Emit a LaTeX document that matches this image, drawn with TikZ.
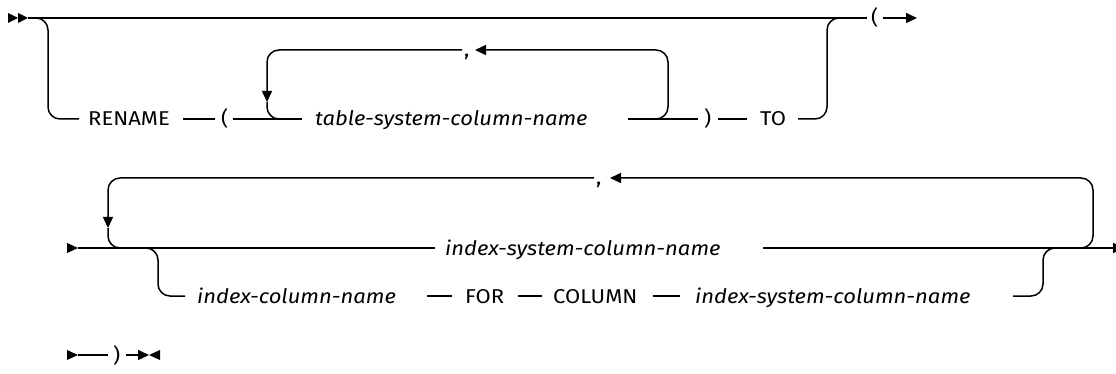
\documentclass[tikz,border=0pt]{standalone}
\usepackage{fontspec}
\setmainfont[FakeStretch=1.1]{Fira Sans}
\usetikzlibrary{arrows.meta, positioning, calc}

\begin{document}
\begin{tikzpicture}[x=1pt, y=-1pt,
  rail/.style={line width=1.5pt, rounded corners=12pt},
  tip/.style={-{Triangle[length=11pt, width=10pt]}},
  kw/.style={inner sep=0pt, anchor=west, text height=18pt, text depth=4pt,
    font=\fontsize{20}{23}\selectfont},
  var/.style={kw, font=\fontsize{20}{23}\selectfont\itshape},
]
  \useasboundingbox (0,0) rectangle (1116,374);

  % Row 1
  \fill (8,13) -- (18,18) -- (8,23) -- cycle;
  \fill (18,13) -- (28,18) -- (18,23) -- cycle;
  \coordinate (in1) at (28,18);
  \coordinate (b1) at (48,119);
  \coordinate (la) at (267,102);
  \coordinate (lb) at (295,119);
  \coordinate (ra) at (628,119);
  \coordinate (rc) at (640,119);
  \coordinate (cae) at (475,50);
  \coordinate (rj) at (850,18);
  \coordinate (out1) at (917,18);

  \node[kw] (rename) at (88,119) {RENAME};
  \node[kw] (lpa) at (221,119) {(};
  \node[var] (tscn) at (315,119) {table-system-column-name};
  \node[kw] (ca) at (464,50) {,};
  \node[kw] (rpa) at (704,119) {)};
  \node[kw] (to) at (760,119) {TO};
  \node[kw] (lpb) at (871,18) {(};

  \draw[rail, shorten >=4pt] (in1) -- (lpb.west);
  \draw[rail, tip, shorten <=4pt] (lpb.east) -- (out1);
  \draw[rail, shorten >=9pt] (in1) -| (b1) -- (rename.west);
  \draw[rail, shorten <=13pt, shorten >=6pt] (rename.east) -- (lpa.west);
  \draw[rail, shorten <=4pt, shorten >=13pt] (lpa.east) -- (tscn.west);
  \draw[rail, tip, shorten <=2pt] (ca.west) -| (la);
  \draw[rail] (la) |- (lb);
  \draw[rail, shorten >=6pt] (ra) -- (rpa.west);
  \draw[rail, tip] (rc) -| (668,50) -- (cae);
  \draw[rail, shorten <=6pt, shorten >=13pt] (rpa.east) -- (to.west);
  \draw[rail, shorten <=12pt] (to.east) -| (827,18) -- (rj);

  % Row 2
  \fill (67,243) -- (78,248) -- (67,253) -- cycle;
  \coordinate (in2) at (78,248);
  \coordinate (lc) at (108,228);
  \coordinate (ld) at (135,248);
  \coordinate (b2) at (158,296);
  \coordinate (rb) at (763,248);
  \coordinate (re) at (1040,248);
  \coordinate (cbe) at (610,178);
  \coordinate (fa) at (427,296);
  \coordinate (fb) at (1013,296);
  \coordinate (rf) at (1060,248);
  \coordinate (out2) at (1124,248);

  \node[var] (iscn) at (445,248) {index-system-column-name};
  \node[kw] (cb) at (596,178) {,};
  \node[var] (icn) at (197,296) {index-column-name};
  \node[kw] (for) at (465,296) {FOR};
  \node[kw] (column) at (553,296) {COLUMN};
  \node[var] (iscnb) at (695,296) {index-system-column-name};

  \draw[rail, shorten >=10pt] (in2) -- (iscn.west);
  \draw[rail, tip] (rb) -- (out2);
  \draw[rail, tip, shorten <=2pt] (cb.west) -| (lc);
  \draw[rail] (lc) |- (ld);
  \draw[rail, tip] (re) -| (1093,178) -- (cbe);
  \draw[rail, shorten >=12pt] (in2) -| (b2) -- (icn.west);
  \draw[rail, shorten >=13pt] (fa) -- (for.west);
  \draw[rail, shorten <=14pt, shorten >=11pt] (for.east) -- (column.west);
  \draw[rail, shorten <=15pt, shorten >=15pt] (column.east) -- (iscnb.west);
  \draw[rail] (fb) -| (1043,248) -- (rf);

  % Row 3
  \fill (67,350) -- (78,355) -- (67,360) -- cycle;
  \coordinate (in3) at (78,355);
  \coordinate (out3) at (149,355);
  \node[kw] (rpc) at (113,355) {)};
  \draw[rail, shorten >=5pt] (in3) -- (rpc.west);
  \draw[rail, -{Triangle[length=11pt, width=10pt]}, shorten <=5pt] (rpc.east) -- (out3);
  \fill (160,350) -- (149,355) -- (160,360) -- cycle;
\end{tikzpicture}
\end{document}
